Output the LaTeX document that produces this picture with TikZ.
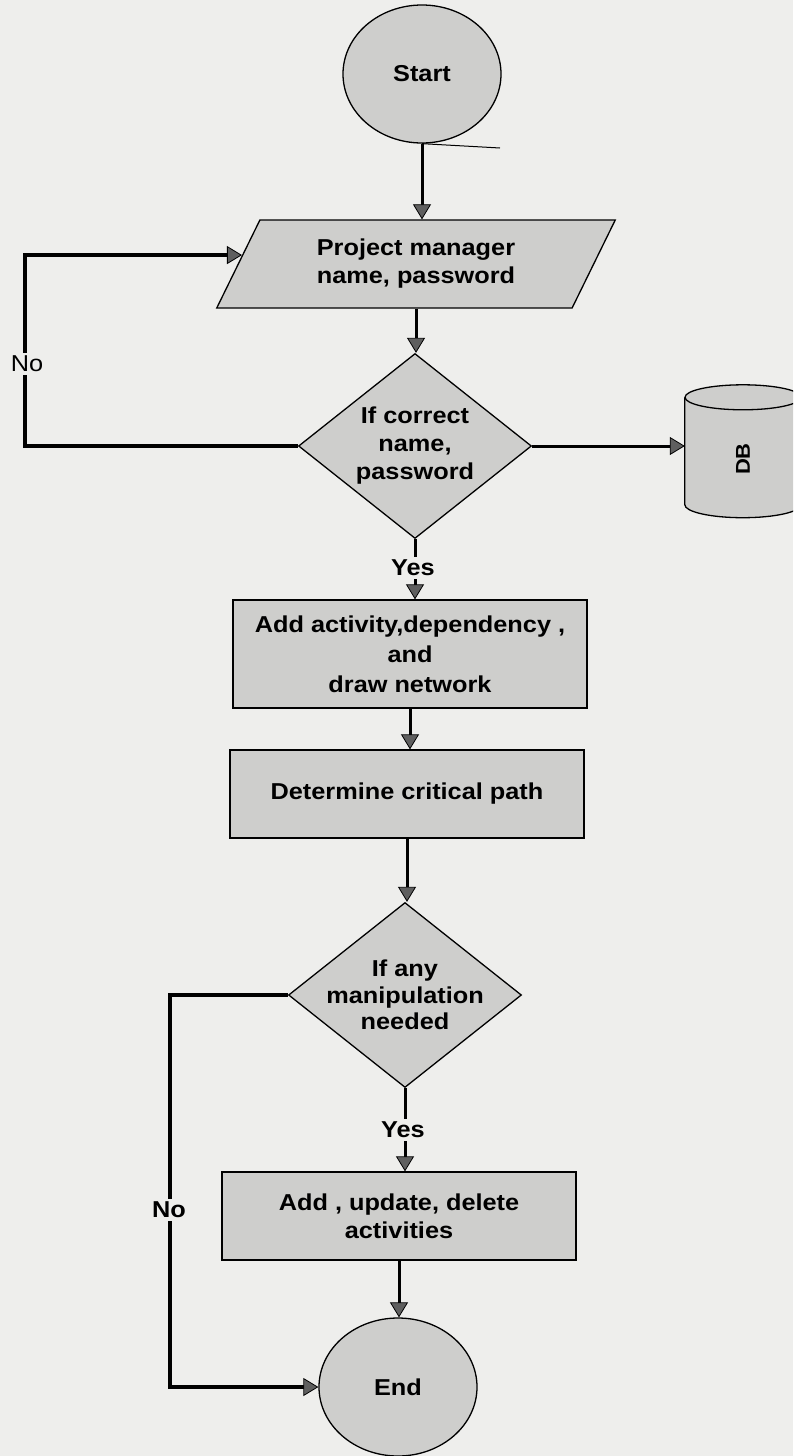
\documentclass[tikz,border=0pt]{standalone}
\usepackage{fontspec}
\setmainfont{Liberation Sans}[FakeStretch=1.1]
\usetikzlibrary{shapes.geometric,arrows.meta,calc}
\definecolor{paper}{RGB}{238,238,236}
\definecolor{shapefill}{RGB}{206,206,204}
\definecolor{tipfill}{RGB}{95,95,95}
\begin{document}
\begin{tikzpicture}[x=1pt,y=-1pt,
  txt/.style={font=\fontsize{23pt}{28pt}\selectfont\bfseries, align=center},
  shp/.style={draw=black, line width=1.3pt, fill=shapefill},
  outl/.style={draw=black, line width=1.3pt},
  term/.style={shp, ellipse, minimum width=158pt, minimum height=138pt, inner sep=0pt, txt},
  proc/.style={shp, rectangle, minimum width=354pt, inner sep=0pt, txt},
  io/.style={shp, trapezium, trapezium left angle=61, trapezium right angle=119, trapezium stretches=true, minimum width=400pt, minimum height=88pt, inner sep=0pt, txt},
  dec/.style={shp, diamond, minimum width=233pt, minimum height=185pt, inner sep=0pt},
  conn/.style={line width=3pt, draw=black, -{Triangle[length=15pt,width=18pt,line width=0.8pt,fill=tipfill]}},
  lbl/.style={fill=paper, inner sep=3pt, txt},
]
\useasboundingbox (0,0) rectangle (793,1456);
\fill[paper] (0,0) rectangle (793,1456);
\clip (0,0) rectangle (793,1456);

% nodes
\node[term] (start) at (422,74) {Start};
\node[io] (pm) at (416,264) {Project manager\\name, password};
\node[dec, label={[txt]center:{If correct\\name,\\password}}] (d1) at (415,446) {};
\node[proc, minimum height=108pt, font=\fontsize{23pt}{30pt}\selectfont\bfseries] (b1) at (410,654) {Add activity,dependency ,\\and\\draw network};
\node[proc, minimum height=88pt] (b2) at (407,794) {Determine critical path};
\node[dec, label={[txt, font=\fontsize{23pt}{26.5pt}\selectfont\bfseries]center:{If any\\manipulation\\needed}}] (d2) at (405,995) {};
\node[proc, minimum height=88pt] (b3) at (399,1216) {Add , update, delete\\activities};
\node[term] (end) at (398,1387) {End};

% database cylinder (vertical axis, partly cut by the page edge)
\node[rectangle, minimum width=116pt, minimum height=107pt, inner sep=0pt] (db) at (743,451) {};
\fill[shapefill] (db.north west) -- (db.south west)
  arc[start angle=180, end angle=360, x radius=58pt, y radius=13pt]
  -- (db.north east)
  arc[start angle=0, end angle=180, x radius=58pt, y radius=12.5pt] -- cycle;
\draw[outl] (db.north west) -- (db.south west)
  arc[start angle=180, end angle=360, x radius=58pt, y radius=13pt] -- (db.north east);
\draw[outl] (db.north) ellipse[x radius=58pt, y radius=12.5pt];
\node[font=\fontsize{20pt}{24pt}\selectfont\bfseries, rotate=90] (dbt) at ($(db.center)+(0,8)$) {DB};

% stray stroke under Start
\coordinate (sx) at (500,148);
\draw[line width=1pt] (start.south) -- (sx);

% connectors
\draw[conn] (start.south) -- (start.south |- pm.north);
\draw[conn] (pm.south) -- (pm.south |- d1.north);
\draw[conn] (d1.south) -- (d1.south |- b1.north);
\draw[conn] (b1.south) -- (b1.south |- b2.north);
\draw[conn] (b2.south) -- (b2.south |- d2.north);
\draw[conn] (d2.south) -- (d2.south |- b3.north);
\draw[conn] (b3.south) -- (b3.south |- end.north);
\draw[conn] (d1.east) -- (d1.east -| db.west);
\coordinate (l1) at (25,446);
\coordinate (pmin) at ($(pm.bottom left corner)!0.6!(pm.top left corner)$);
\draw[conn, line width=3.5pt] (d1.west) -- (l1) |- (pmin);
\coordinate (l2) at (170,995);
\draw[conn, line width=3.5pt] (d2.west) -- (l2) |- (end.west);

% labels
\node[lbl] (yes1) at (413,568) {Yes};
\node[lbl] (yes2) at (403,1130) {Yes};
\node[fill=paper, inner sep=3pt, font=\fontsize{23pt}{28pt}\selectfont] (no1) at (27,364) {No};
\node[lbl] (no2) at (169,1210) {No};
\end{tikzpicture}
\end{document}
